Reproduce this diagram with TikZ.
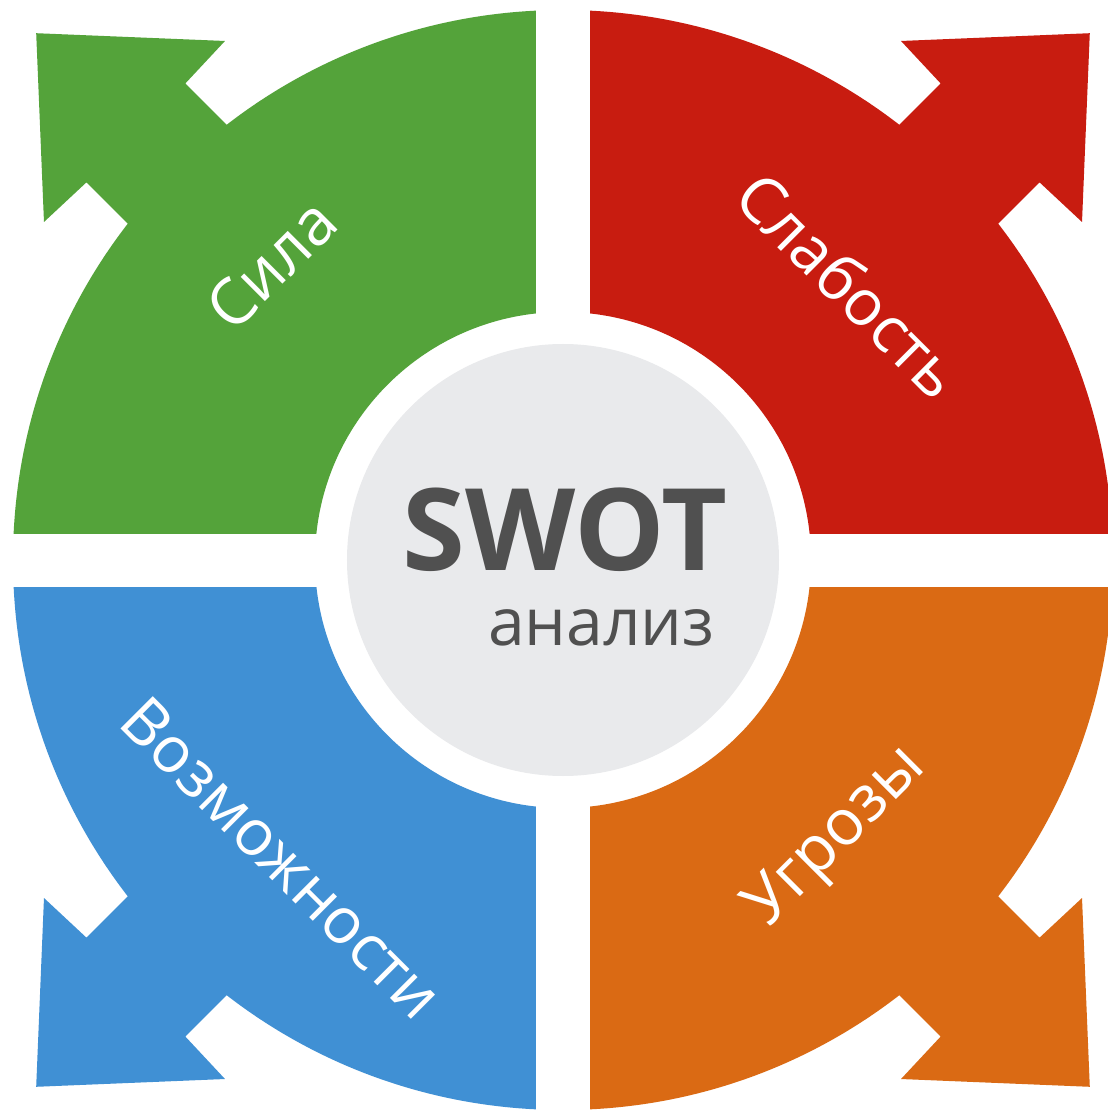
\documentclass[tikz,border=0pt]{standalone}
\usepackage{fontspec}
\setmainfont{Open Sans}
\usepackage{tikz}
\usetikzlibrary{positioning}

\definecolor{silagreen}{RGB}{84,163,58}
\definecolor{slabred}{RGB}{200,28,16}
\definecolor{vozblue}{RGB}{64,144,212}
\definecolor{ugrorange}{RGB}{218,106,20}
\definecolor{coregray}{RGB}{233,234,236}
\definecolor{swotgray}{RGB}{80,80,80}

\begin{document}
\begin{tikzpicture}[x=1pt, y=1pt,
     node distance = 3mm and 3mm,
       qtext/.style = {text=white, inner sep=0pt, font=\fontsize{64}{77}\selectfont},
       ctext/.style = {text=swotgray, inner sep=0pt},
        ring/.style = {even odd rule}
                        ]
\useasboundingbox[fill=white] (-563,-551) rectangle (545,560);
% Sila
\begin{scope}
\clip (-27,27) rectangle (-600,600);
\fill[silagreen, ring] (0,0) circle (550) (0,0) circle (248);
\fill[silagreen, rotate=135] (480,70) -- (604,70) -- (606,128) -- (745,0) -- (606,-128) -- (604,-70) -- (480,-70) -- cycle;
\end{scope}
% Slabost
\begin{scope}
\clip (27,27) rectangle (600,600);
\fill[slabred, ring] (0,0) circle (550) (0,0) circle (248);
\fill[slabred, rotate=45] (480,70) -- (604,70) -- (606,128) -- (745,0) -- (606,-128) -- (604,-70) -- (480,-70) -- cycle;
\end{scope}
% Vozmozhnosti
\begin{scope}
\clip (-27,-27) rectangle (-600,-600);
\fill[vozblue, ring] (0,0) circle (550) (0,0) circle (248);
\fill[vozblue, rotate=225] (480,70) -- (604,70) -- (606,128) -- (745,0) -- (606,-128) -- (604,-70) -- (480,-70) -- cycle;
\end{scope}
% Ugrozy
\begin{scope}
\clip (27,-27) rectangle (600,-600);
\fill[ugrorange, ring] (0,0) circle (550) (0,0) circle (248);
\fill[ugrorange, rotate=-45] (480,70) -- (604,70) -- (606,128) -- (745,0) -- (606,-128) -- (604,-70) -- (480,-70) -- cycle;
\end{scope}
\node (core) [circle, fill=coregray, minimum size=432pt] at (0,0) {};
\node (swot) [ctext, anchor=base, font=\bfseries\fontsize{114}{126}\selectfont] at (2,-10) {SWOT};
\node (analiz) [ctext, below left=38pt and 13pt of swot.south east, font=\fontsize{66}{78}\selectfont] {анализ};
\node (sila) [qtext, rotate=45] at (-292,296) {Сила};
\node (slab) [qtext, rotate=-45] at (287,275) {Слабость};
\node (vozm) [qtext, rotate=-45] at (-281,-298) {Возможности};
\node (ugro) [qtext, rotate=45] at (274,-278) {Угрозы};
\end{tikzpicture}
\end{document}
